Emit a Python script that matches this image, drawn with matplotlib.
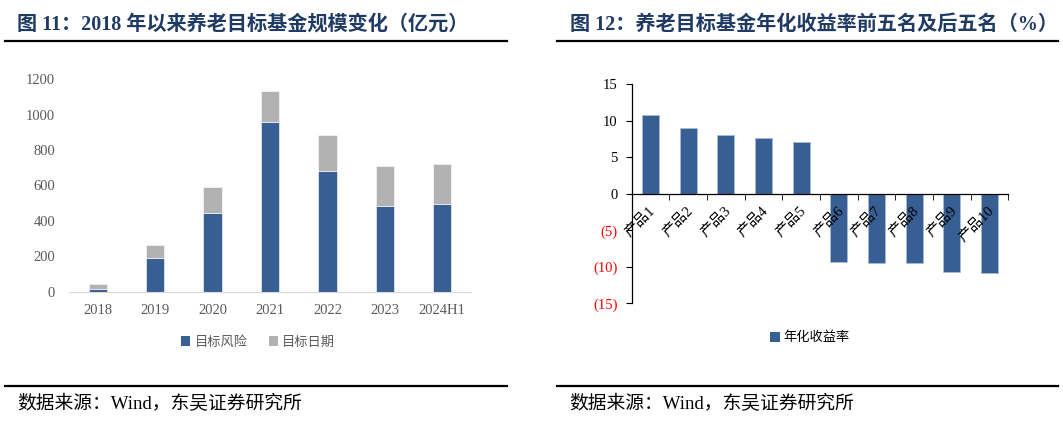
import matplotlib
matplotlib.use("Agg")
import matplotlib.pyplot as plt
from matplotlib.lines import Line2D
from matplotlib.patches import Patch
from matplotlib.transforms import ScaledTranslation
import numpy as np

# ---- data ----
years = ["2018", "2019", "2020", "2021", "2022", "2023", "2024H1"]
target_risk = [14, 188, 442, 960, 680, 487, 497]
target_date = [28, 74, 151, 176, 206, 225, 226]

products = ["产品1", "产品2", "产品3", "产品4", "产品5",
            "产品6", "产品7", "产品8", "产品9", "产品10"]
annual_return = [10.8, 9.0, 8.0, 7.65, 7.0, -9.3, -9.5, -9.55, -10.75, -10.8]

left_yticks = [0, 200, 400, 600, 800, 1000, 1200]
right_yticks = [-15, -10, -5, 0, 5, 10, 15]

BLUE = "#375F93"
GRAY = "#B2B2B2"
NAVY = "#1F3B64"
SERIF = ["Liberation Serif", "Noto Sans CJK SC"]

W, H = 1063, 429
fig = plt.figure(figsize=(W / 100, H / 100), dpi=100)

def fx(x):
    return x / W

def fy(y):
    return 1 - y / H

# ---- titles and rules ----
fig.text(fx(17), fy(25), "图 11：2018 年以来养老目标基金规模变化（亿元）",
         family=SERIF, weight="bold", fontsize=14.5, color=NAVY, va="center", ha="left")
fig.text(fx(570), fy(25), "图 12：养老目标基金年化收益率前五名及后五名（%）",
         family=SERIF, weight="bold", fontsize=14.5, color=NAVY, va="center", ha="left")
for x0, x1 in [(5, 507), (557, 1058)]:
    fig.add_artist(Line2D([fx(x0), fx(x1)], [fy(41), fy(41)], color="black", lw=1.6))
    fig.add_artist(Line2D([fx(x0), fx(x1)], [fy(386), fy(386)], color="black", lw=1.6))
fig.text(fx(17), fy(404), "数据来源：Wind，东吴证券研究所", family=SERIF,
         fontsize=13.5, color="black", va="center", ha="left")
fig.text(fx(569), fy(404), "数据来源：Wind，东吴证券研究所", family=SERIF,
         fontsize=13.5, color="black", va="center", ha="left")

# ---- left chart ----
ax1 = fig.add_axes([fx(69), fy(291.7), fx(471 - 69), (291.7 - 79.3) / H])
x = np.arange(len(years))
ax1.bar(x, target_risk, width=0.32, color=BLUE, edgecolor="white", linewidth=0.4, label="目标风险")
ax1.bar(x, target_date, bottom=target_risk, width=0.32, color=GRAY, edgecolor="white",
        linewidth=0.4, label="目标日期")
ax1.set_xlim(-0.5, len(years) - 0.5)
ax1.set_ylim(0, 1200)
ax1.set_yticks(left_yticks)
ax1.set_xticks(x)
ax1.set_xticklabels(years)
for s in ["top", "right", "left"]:
    ax1.spines[s].set_visible(False)
ax1.spines["bottom"].set_color("#D9D9D9")
ax1.tick_params(axis="both", length=0, labelcolor="#595959", labelsize=10.5)
ax1.tick_params(axis="y", pad=10)
ax1.tick_params(axis="x", pad=9)
for lab in ax1.get_xticklabels() + ax1.get_yticklabels():
    lab.set_family(SERIF)
h1 = [Patch(facecolor=BLUE), Patch(facecolor=GRAY)]
fig.legend(h1, ["目标风险", "目标日期"], loc="center", bbox_to_anchor=(fx(258), fy(342)),
           ncol=2, frameon=False, handlelength=0.7, handleheight=0.7, handletextpad=0.3,
           columnspacing=1.6, prop={"family": "Noto Sans CJK SC", "size": 9.5},
           labelcolor="#595959")

# ---- right chart ----
ax2 = fig.add_axes([fx(631.7), fy(303.3), fx(1008.3 - 631.7), (303.3 - 84) / H])
xp = np.arange(len(products))
ax2.bar(xp, annual_return, width=0.45, color=BLUE, edgecolor="#A9BCD6", linewidth=0.6)
ax2.set_xlim(-0.5, len(products) - 0.5)
ax2.set_ylim(-15, 15)
ax2.set_yticks(right_yticks)
ax2.set_yticklabels([f"({abs(v)})" if v < 0 else str(v) for v in right_yticks])
for lab, v in zip(ax2.get_yticklabels(), right_yticks):
    lab.set_color("red" if v < 0 else "black")
    lab.set_family(SERIF)
ax2.spines["top"].set_visible(False)
ax2.spines["right"].set_visible(False)
ax2.spines["bottom"].set_position(("data", 0))
ax2.spines["bottom"].set_color("black")
ax2.spines["left"].set_color("black")
ax2.spines["bottom"].set_linewidth(0.9)
ax2.spines["left"].set_linewidth(0.9)
ax2.set_xticks(xp)
ax2.set_xticklabels(products, rotation=45, ha="right", va="center", rotation_mode="anchor")
ax2.set_xticks(np.arange(-0.5, len(products)), minor=True)
ax2.tick_params(axis="x", which="major", length=0, pad=11, labelsize=10.5)
ax2.tick_params(axis="x", which="minor", length=4, direction="out", color="black")
ax2.tick_params(axis="y", length=4, direction="out", color="black", labelsize=10.5, pad=6)
offset = ScaledTranslation(3 / 100, 0, fig.dpi_scale_trans)
for lab in ax2.get_xticklabels():
    lab.set_family(SERIF)
    lab.set_transform(lab.get_transform() + offset)
fig.legend([Patch(facecolor=BLUE)], ["年化收益率"], loc="center",
           bbox_to_anchor=(fx(810), fy(338)), frameon=False, handlelength=0.7,
           handleheight=0.7, handletextpad=0.3,
           prop={"family": "Noto Sans CJK SC", "size": 9.5}, labelcolor="black")

fig.savefig("out.png", dpi=100)
